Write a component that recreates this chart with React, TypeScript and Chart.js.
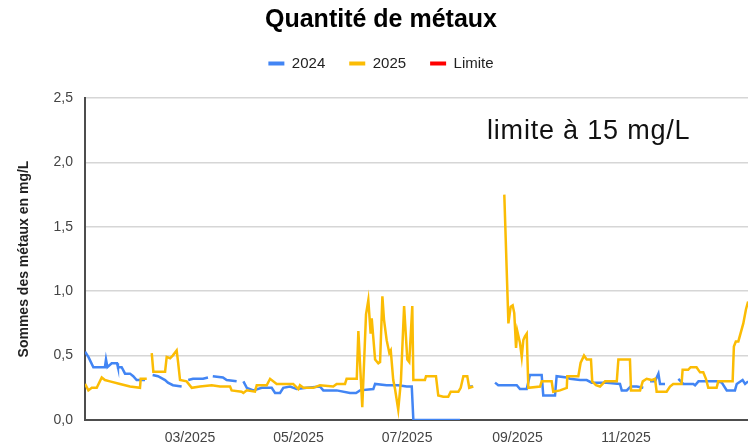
import React, { useEffect, useRef } from 'react';
import { Chart, registerables } from 'chart.js';

Chart.register(...registerables);

const FONT = "'Liberation Sans', Arial, sans-serif";

const chartTitle = 'Quantité de métaux';
const yAxisTitle = 'Sommes des métaux en mg/L';
const annotationText = 'limite à 15 mg/L';
const seriesNames = ['2024', '2025', 'Limite'];
const seriesColors = ['#4285F4', '#FBBC04', '#FF0000'];

// x = day of year (0 = 1 Jan 2025)
const monthTickDays = [59, 120, 181, 243, 304];
const monthTickLabels = ['03/2025', '05/2025', '07/2025', '09/2025', '11/2025'];
const xRange = [0, 380.4];
const yRange = [0, 2.5];
const yStep = 0.5;

const limitValue = 15;
const limitDays = [0, 372.6];

const series2024: [number, number | null][] = [
  [0, 0.53], [1.9, 0.49], [4.7, 0.41], [11.2, 0.41], [11.8, 0.47], [12.6, 0.41], [15, 0.44], [18, 0.44],
  [18.5, 0.41], [20.6, 0.41], [22.5, 0.36], [25.3, 0.36], [27.1, 0.34], [29, 0.31], [33.7, 0.31], [35.5, null],
  [38, 0.35], [41, 0.34], [45, 0.31], [46.6, 0.29], [49.4, 0.27], [54.3, 0.26], [56, null],
  [58, 0.31], [60.7, 0.32], [66.3, 0.32], [69.1, 0.33], [70.5, null],
  [71.8, 0.34], [77.5, 0.33], [79.6, 0.31], [85.2, 0.3], [87, null],
  [89, 0.3], [90.9, 0.25], [94.6, 0.23], [99.3, 0.25], [104.9, 0.25], [106.8, 0.21], [109.6, 0.21], [111.4, 0.25],
  [115.2, 0.26], [119, 0.24], [124.6, 0.25], [132, 0.26], [133.9, 0.23], [141.4, 0.23], [148.9, 0.21], [152.3, 0.21],
  [154.5, 0.23], [162, 0.24], [163, 0.28], [169.5, 0.27], [175.9, 0.27], [180.8, 0.26], [183.6, 0.26], [184.5, 0],
  [197.8, 0], [210.7, 0], [213.5, null],
  [216.4, 0.26], [217.9, 0.26], [224, null],
  [230.4, 0.29], [232.2, 0.27], [242.6, 0.27], [244.4, 0.24], [248.2, 0.24], [250, 0.35], [256.6, 0.35], [257.5, 0.19],
  [264.1, 0.19], [265, 0.34], [270.7, 0.33], [272.5, 0.32], [278.2, 0.31], [281.9, 0.31], [284.7, 0.29], [293.2, 0.29],
  [300.6, 0.28], [301.6, 0.23], [304.4, 0.23], [306.6, 0.26], [310, 0.26], [313.7, 0.25], [315.5, null],
  [317.5, 0.3], [320.3, 0.3], [322.2, 0.36], [323.1, 0.28], [325.9, 0.28], [329.5, null],
  [333.4, 0.32], [336.2, 0.28], [341.8, 0.28], [342.8, 0.27], [344.7, 0.3], [349.4, 0.3], [355, 0.3], [357.8, 0.29],
  [360.6, 0.23], [365.2, 0.23], [366.2, 0.28], [369.5, 0.31], [370.9, 0.28], [372.6, 0.3],
];

const series2025: [number, number | null][] = [
  [0, 0.28], [1.9, 0.23], [3.8, 0.25], [6.6, 0.25], [9.4, 0.33], [11.2, 0.31], [14, 0.3], [19.7, 0.28],
  [25.3, 0.26], [30.9, 0.25], [31.3, 0.32], [34.7, 0.32], [36, null],
  [37.5, 0.52], [38.4, 0.375], [45, 0.375], [45.9, 0.49], [47.8, 0.48], [49.3, 0.5], [51.5, 0.54], [52.3, 0.45],
  [53.4, 0.31], [57.1, 0.3], [60, 0.25], [64.6, 0.26], [71.2, 0.27], [75.9, 0.26], [81.5, 0.26], [82.4, 0.23],
  [88, 0.22], [89, 0.21], [90.9, 0.23], [95.5, 0.22], [96.5, 0.27], [102.1, 0.27], [104, 0.32], [107.7, 0.28],
  [117, 0.28], [119.9, 0.24], [120.8, 0.27], [122.7, 0.25], [128.3, 0.25], [132, 0.27], [139.5, 0.26], [141.4, 0.28],
  [146.1, 0.28], [147, 0.32], [152.7, 0.32], [153.6, 0.69], [155.8, 0.1], [157.9, 0.82], [159.2, 0.93], [160.5, 0.67],
  [161.1, 0.79], [163, 0.47], [164.8, 0.44], [165.8, 0.45], [167.1, 0.96], [168, 0.78], [169.5, 0.62], [171, 0.52],
  [171.8, 0.54], [173.2, 0.31], [174.2, 0.24], [176, 0.08], [177.5, 0.3], [179.3, 0.885], [181.1, 0.47], [182.2, 0.45],
  [183.9, 0.885], [184.5, 0.31], [191, 0.31], [191.6, 0.34], [197.2, 0.34], [198.5, 0.19], [201.3, 0.18], [204.1, 0.18],
  [205.5, 0.22], [209.8, 0.22], [211.1, 0.25], [212.6, 0.34], [214.8, 0.34], [215.9, 0.25], [218.2, 0.26], [226, null],
  [235.6, 1.75], [237.9, 0.75], [239.2, 0.88], [240.3, 0.89], [241.2, 0.83], [242.2, 0.56], [242.9, 0.69], [244.4, 0.6],
  [245.4, 0.49], [246.3, 0.62], [247.2, 0.65], [248.2, 0.67], [249.1, 0.25], [255.7, 0.26], [256.6, 0.3], [262.2, 0.3],
  [263.1, 0.22], [266.9, 0.23], [270.7, 0.25], [271, 0.34], [277.2, 0.34], [278.5, 0.445], [280.4, 0.5], [281.9, 0.47],
  [284.3, 0.47], [285, 0.3], [287.1, 0.27], [289.4, 0.26], [292.2, 0.3], [298.8, 0.3], [299.7, 0.47], [306.2, 0.47],
  [306.8, 0.23], [311.9, 0.23], [313.4, 0.3], [315.6, 0.32], [318.4, 0.31], [320.3, 0.32], [321.2, 0.22], [326.8, 0.22],
  [328.7, 0.26], [330.5, 0.28], [335.2, 0.28], [335.8, 0.39], [338.9, 0.39], [340.3, 0.41], [343.6, 0.41], [345.6, 0.37],
  [347.4, 0.37], [348.9, 0.32], [350.2, 0.25], [354.9, 0.25], [355.8, 0.3], [363.9, 0.3], [364.6, 0.57], [365.7, 0.61],
  [367.1, 0.61], [369.9, 0.75], [371.4, 0.86], [372.6, 0.92],
];

const toPoints = (s: [number, number | null][]) => s.map(([x, y]) => ({ x, y }));

const formatComma = (v: number) => v.toFixed(1).replace('.', ',');

const annotationPlugin = {
  id: 'limitNote',
  afterDraw(chart: any) {
    const { ctx, chartArea } = chart;
    ctx.save();
    ctx.font = `27px ${FONT}`;
    try { (ctx as any).letterSpacing = '0.8px'; } catch (e) { /* ignore */ }
    ctx.fillStyle = '#111111';
    ctx.textAlign = 'left';
    ctx.textBaseline = 'alphabetic';
    ctx.fillText(annotationText, chartArea.left + 402, chartArea.top + 41);
    ctx.restore();
  },
};

export default function App() {
  const canvasRef = useRef<HTMLCanvasElement | null>(null);

  useEffect(() => {
    const canvas = canvasRef.current;
    if (!canvas) return;
    const chart = new Chart(canvas, {
      type: 'line',
      data: {
        datasets: [
          {
            label: seriesNames[0],
            data: toPoints(series2024),
            borderColor: seriesColors[0],
            backgroundColor: seriesColors[0],
            borderWidth: 2.5,
            pointRadius: 0,
            tension: 0,
            spanGaps: false,
            order: 1,
          },
          {
            label: seriesNames[1],
            data: toPoints(series2025),
            borderColor: seriesColors[1],
            backgroundColor: seriesColors[1],
            borderWidth: 2.5,
            pointRadius: 0,
            tension: 0,
            spanGaps: false,
            order: 0,
          },
          {
            label: seriesNames[2],
            data: limitDays.map((d) => ({ x: d, y: limitValue })),
            borderColor: seriesColors[2],
            backgroundColor: seriesColors[2],
            borderWidth: 2.5,
            pointRadius: 0,
            order: 2,
          },
        ],
      },
      options: {
        animation: false,
        responsive: false,
        maintainAspectRatio: false,
        events: [],
        layout: { padding: 0 },
        plugins: {
          title: {
            display: true,
            text: chartTitle,
            color: '#000000',
            font: { family: FONT, size: 25, weight: 'bold', lineHeight: 1 },
            padding: { top: 8, bottom: -1 },
          },
          subtitle: {
            display: true,
            text: '',
            weight: 500,
            font: { family: FONT, size: 17, lineHeight: 1 },
            padding: 0,
          },
          legend: {
            display: true,
            position: 'top',
            labels: {
              boxWidth: 16,
              boxHeight: 4,
              padding: 24,
              color: '#222222',
              font: { family: FONT, size: 15 },
              sort: (a: any, b: any) => a.datasetIndex - b.datasetIndex,
              generateLabels: (c: any) =>
                (Chart.defaults.plugins.legend.labels as any)
                  .generateLabels(c)
                  .map((l: any) => ({ ...l, lineWidth: 0, fillStyle: l.strokeStyle })),
            },
          },
          tooltip: { enabled: false },
        },
        scales: {
          x: {
            type: 'linear',
            min: xRange[0],
            max: xRange[1],
            grid: { display: false, drawTicks: false },
            border: { display: true, color: '#4d4d4d', width: 2 },
            afterFit: (scale: any) => {
              scale.height = 25;
            },
            afterBuildTicks: (scale: any) => {
              scale.ticks = monthTickDays.map((v) => ({ value: v }));
            },
            ticks: {
              padding: 10,
              color: '#444444',
              font: { family: FONT, size: 14 },
              maxRotation: 0,
              autoSkip: false,
              callback: (_v: any, i: number) => monthTickLabels[i],
            },
          },
          y: {
            type: 'linear',
            min: yRange[0],
            max: yRange[1],
            grid: { color: '#d6d6d6', lineWidth: 1.5, drawTicks: false },
            border: { display: true, color: '#4d4d4d', width: 2 },
            afterFit: (scale: any) => {
              scale.width = 85;
            },
            ticks: {
              stepSize: yStep,
              padding: 12,
              color: '#444444',
              font: { family: FONT, size: 14 },
              callback: (v: any) => formatComma(Number(v)),
            },
            title: {
              display: true,
              text: yAxisTitle,
              color: '#222222',
              font: { family: FONT, size: 14, weight: 'bold', lineHeight: 1.2 },
              padding: { top: 15.6, bottom: 0 },
            },
          },
        },
      },
      plugins: [annotationPlugin],
    } as any);
    return () => chart.destroy();
  }, []);

  return (
    <div
      style={{
        position: 'absolute',
        left: 0,
        top: 0,
        width: 748,
        height: 445,
        overflow: 'hidden',
        background: '#ffffff',
      }}
    >
      <canvas ref={canvasRef} width={762} height={445} style={{ display: 'block', width: 762, height: 445 }} />
    </div>
  );
}
